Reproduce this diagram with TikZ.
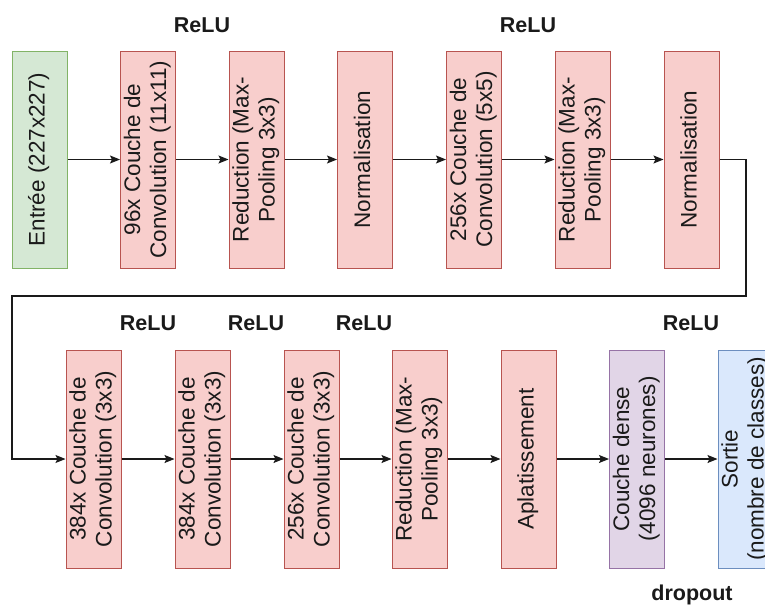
\documentclass[tikz,border=0pt]{standalone}
\usepackage{fontspec}
\usepackage{graphicx}
\setmainfont{Liberation Sans}
\usetikzlibrary{arrows.meta}

\definecolor{inFill}{HTML}{D5E8D4}
\definecolor{inLine}{HTML}{82B366}
\definecolor{opFill}{HTML}{F8CECC}
\definecolor{opLine}{HTML}{B85450}
\definecolor{fcFill}{HTML}{E1D5E7}
\definecolor{fcLine}{HTML}{9673A6}
\definecolor{outFill}{HTML}{DAE8FC}
\definecolor{outLine}{HTML}{6C8EBF}
\definecolor{ink}{HTML}{1A1A1A}

\tikzset{
  layer/.style={draw, line width=1pt, minimum width=55pt, minimum height=217pt,
    inner sep=0pt, text=ink, font=\fontsize{22.5}{26}\selectfont},
  inputlayer/.style={layer, fill=inFill, draw=inLine},
  oplayer/.style={layer, fill=opFill, draw=opLine},
  denselayer/.style={layer, fill=fcFill, draw=fcLine},
  outlayer/.style={layer, fill=outFill, draw=outLine},
  link/.style={-{Stealth[length=10pt,width=8pt,inset=2pt]}, line width=1.1pt, draw=ink},
  note/.style={text=ink, inner sep=0pt, font=\bfseries\fontsize{21.5}{26}\selectfont}
}

% vertical (bottom-to-top) text inside a layer box
\newcommand{\vlabel}[1]{\rotatebox{90}{\begin{tabular}{@{}c@{}}#1\end{tabular}}}

\begin{document}
\begin{tikzpicture}[x=1pt, y=-1pt]
  \useasboundingbox (0,0) rectangle (765,608);
  \fill[white] (0,0) rectangle (765,608);
  \clip (0,0) rectangle (765,608);

  % first row
  \node[inputlayer] (n1) at (39.5,159.5) {\vlabel{Entrée (227x227)}};
  \node[oplayer] (n2) at (148,159.5) {\vlabel{96x Couche de\\Convolution (11x11)}};
  \node[oplayer] (n3) at (256.5,159.5) {\vlabel{Reduction (Max-\\Pooling 3x3)}};
  \node[oplayer] (n4) at (365,159.5) {\vlabel{Normalisation}};
  \node[oplayer] (n5) at (474,159.5) {\vlabel{256x Couche de\\Convolution (5x5)}};
  \node[oplayer] (n6) at (582.5,159.5) {\vlabel{Reduction (Max-\\Pooling 3x3)}};
  \node[oplayer] (n7) at (691.5,159.5) {\vlabel{Normalisation}};

  % second row
  \node[oplayer, minimum height=218pt] (n8) at (93.5,459) {\vlabel{384x Couche de\\Convolution (3x3)}};
  \node[oplayer, minimum height=218pt] (n9) at (202.5,459) {\vlabel{384x Couche de\\Convolution (3x3)}};
  \node[oplayer, minimum height=218pt] (n10) at (311.5,459) {\vlabel{256x Couche de\\Convolution (3x3)}};
  \node[oplayer, minimum height=218pt] (n11) at (419.5,459) {\vlabel{Reduction (Max-\\Pooling 3x3)}};
  \node[oplayer, minimum height=218pt] (n12) at (528.5,459) {\vlabel{Aplatissement}};
  \node[denselayer, minimum height=218pt] (n13) at (637,459) {\vlabel{Couche dense\\(4096 neurones)}};
  \node[outlayer, minimum height=218pt] (n14) at (745.5,459) {\vlabel{Sortie\\(nombre de classes)}};

  % activation / regularisation notes
  \node[note] (relu1) at (202,25) {ReLU};
  \node[note] (relu2) at (528,25) {ReLU};
  \node[note] (relu3) at (148,323) {ReLU};
  \node[note] (relu4) at (256,323) {ReLU};
  \node[note] (relu5) at (364,323) {ReLU};
  \node[note] (relu6) at (691,323) {ReLU};
  \node[note] (drop) at (692,595) {dropout};

  % connectors
  \draw[link] (n1) -- (n2);
  \draw[link] (n2) -- (n3);
  \draw[link] (n3) -- (n4);
  \draw[link] (n4) -- (n5);
  \draw[link] (n5) -- (n6);
  \draw[link] (n6) -- (n7);

  \coordinate (wrapR) at (746,296);
  \coordinate (wrapL) at (12,296);
  \draw[link] (n7.east) -| (wrapR) -- (wrapL) |- (n8.west);

  \draw[link] (n8) -- (n9);
  \draw[link] (n9) -- (n10);
  \draw[link] (n10) -- (n11);
  \draw[link] (n11) -- (n12);
  \draw[link] (n12) -- (n13);
  \draw[link] (n13) -- (n14);
\end{tikzpicture}
\end{document}
